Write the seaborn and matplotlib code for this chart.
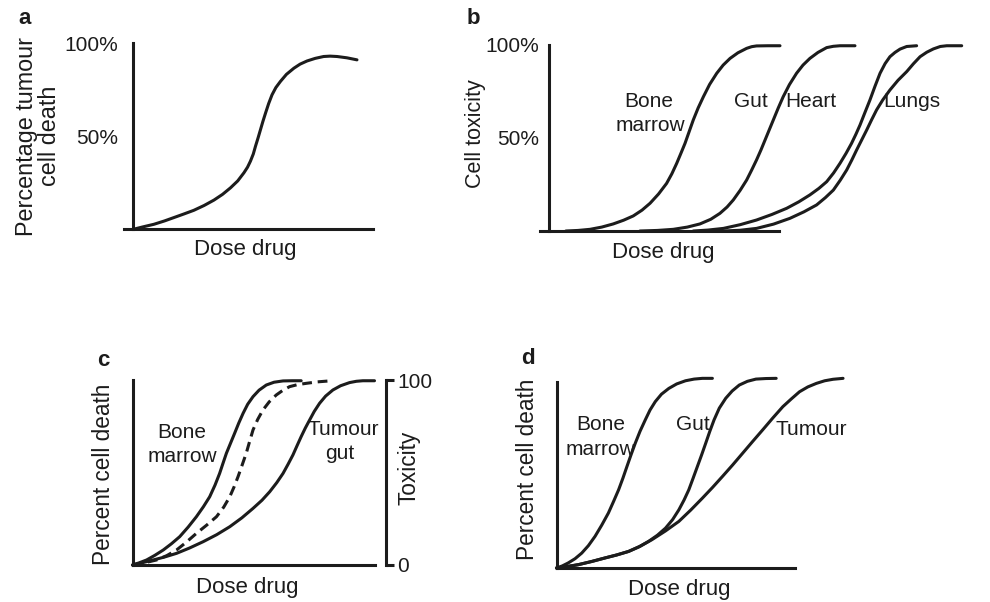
import matplotlib
matplotlib.use("Agg")
import matplotlib.pyplot as plt
import pandas as pd
import seaborn as sns

sns.set_style("white")
plt.rcParams["font.family"] = ["Liberation Sans", "DejaVu Sans"]

# ---- panel a: tumour cell death vs dose (dose 0-100, death %) ----
a_dose = [0, 4, 8.6, 13, 16.9, 21, 25.2, 29.5, 33.6, 37.2, 40.5, 43.5, 46.1, 47.6,
          48.8, 50.0, 50.9, 52.0, 53.0, 54.0, 55.1, 56.4, 57.8, 59.4, 61.3, 63.8,
          66.9, 69.5, 72.4, 75.8, 79.3, 82, 84.9, 89, 93.2]
a_death = [0, 1.3, 2.7, 4.5, 6.3, 8.2, 10.2, 12.8, 15.7, 18.8, 22.3, 26.0, 30.4,
           33.4, 36.6, 40.5, 44.6, 49.2, 53.6, 58.0, 62.5, 67.6, 72.3, 76.2, 79.5,
           83.3, 86.6, 88.8, 90.5, 91.9, 92.9, 93.1, 92.9, 92.2, 91.1]

# ---- panel b: cell toxicity of four tissues ----
b_marrow_dose = [7.2, 12.5, 17.7, 22.8, 27.8, 32.3, 36.5, 40.3, 43.8, 47.5, 51.0,
                 53.3, 55.4, 57.2, 59.0, 60.8, 62.6, 64.7, 67.0, 69.7, 72.8, 75.6,
                 78.6, 82.0, 85.8, 88.0, 90.1, 95, 100.3]
b_marrow_tox = [0, 0.3, 0.9, 2.1, 3.8, 5.8, 8.1, 11.2, 14.9, 19.9, 25.6, 30.8,
                36.4, 41.7, 47.1, 53.4, 59.7, 66.1, 72.2, 78.8, 84.8, 89.2, 92.8,
                95.8, 98.2, 99.1, 99.5, 99.6, 99.6]
b_gut_dose = [39.4, 47, 53.9, 60, 65.5, 70.2, 74.2, 77.3, 80.0, 83.0, 85.8, 88.0,
              90.1, 92.0, 93.8, 95.6, 97.4, 99.5, 101.7, 104.4, 107.5, 110.3,
              113.3, 116.8, 120.6, 123.5, 126.4, 132.9]
b_gut_tox = [0, 0.3, 0.9, 2.1, 3.8, 6.3, 9.5, 12.9, 16.7, 21.9, 27.4, 32.8, 38.2,
             43.5, 48.9, 54.3, 59.7, 66.0, 72.2, 78.7, 84.8, 89.2, 92.8, 96.0,
             98.6, 99.3, 99.6, 99.6]
b_heart_dose = [62.6, 69, 75.7, 83, 90.1, 96.8, 103.2, 108.5, 113.3, 117.2, 120.6,
                123.6, 126.4, 129.0, 131.4, 133.3, 135.1, 137.2, 139.4, 141.6,
                143.8, 146.0, 148.1, 150.3, 152.5, 155.4, 159.7]
b_heart_tox = [0, 0.5, 1.4, 3.4, 5.9, 8.9, 12.2, 15.7, 19.4, 22.9, 26.5, 31.2,
               36.4, 41.7, 47.1, 52.0, 57.0, 63.6, 70.4, 77.8, 84.8, 90.0, 93.7,
               96.0, 97.8, 99.2, 99.6]
b_lungs_dose = [75.7, 83, 90.1, 97.5, 104.6, 110.7, 116.2, 120.0, 123.5, 126.5,
                129.3, 131.5, 133.6, 135.8, 138.0, 140.1, 142.3, 145.0, 148.1,
                151.6, 155.4, 158.3, 161.2, 164.1, 167.0, 170, 172.8, 179.3]
b_lungs_tox = [0, 0.4, 1.4, 3.7, 6.8, 10.3, 14.0, 17.9, 22.0, 27.3, 32.8, 38.1,
               43.5, 48.9, 54.3, 59.7, 65.1, 70.5, 75.8, 81.0, 85.7, 89.9, 93.7,
               96.1, 97.9, 99.2, 99.6, 99.6]

# ---- panel c: bone marrow, tumour/gut and the dashed intermediate curve ----
c_marrow_dose = [0, 2.8, 5.8, 9.2, 12.7, 16.1, 19.5, 23.0, 26.4, 29.3, 31.9, 34.1,
                 36.0, 37.4, 38.8, 40.5, 42.2, 43.9, 45.7, 47.6, 49.8, 52.3, 55.3,
                 58.5, 62.2, 66, 69.7]
c_marrow_death = [0, 1.2, 2.7, 5.2, 8.1, 11.5, 15.3, 20.5, 26.1, 31.5, 36.9, 43.2,
                  49.5, 55.0, 60.4, 65.8, 71.2, 76.7, 82.0, 86.9, 91.0, 94.5, 97.3,
                  98.8, 99.5, 99.6, 99.6]
c_mid_dose = [0, 5, 9.9, 14.2, 18.2, 22.3, 26.4, 30.6, 34.7, 37.7, 40.2, 42.0, 43.6,
              45.3, 47.0, 48.4, 49.8, 51.7, 53.9, 56.5, 59.4, 62.0, 64.9, 68.2,
              71.8, 76.5, 81.4]
c_mid_death = [0, 1.2, 2.7, 5.1, 8.1, 12.4, 17.1, 21.5, 26.1, 31.3, 36.9, 42.3,
               47.7, 54.0, 60.4, 66.8, 73.0, 78.6, 83.8, 88.2, 91.9, 94.3, 96.4,
               97.5, 98.2, 99.0, 99.5]
c_tumour_dose = [0, 4, 8.5, 13.2, 18.2, 23.6, 29.2, 34.8, 40.2, 45.2, 49.8, 53.5,
                 56.7, 59.6, 62.2, 64.3, 66.3, 68.0, 69.7, 71.4, 73.2, 75.1, 77.3,
                 79.8, 82.8, 86, 89.7, 92.5, 95.2, 100]
c_tumour_death = [0, 1.2, 2.7, 4.3, 6.3, 9.2, 12.6, 16.4, 20.7, 25.5, 30.6, 35.0,
                  39.6, 44.5, 49.5, 54.5, 59.5, 64.5, 69.4, 74.0, 78.4, 83.0, 87.4,
                  91.3, 94.6, 96.9, 98.6, 99.3, 99.6, 99.6]
c_tox_ticks = [0, 100]
c_tox_labels = ["0", "100"]

# ---- panel d: bone marrow, gut and tumour ----
d_marrow_dose = [0, 2.4, 4.9, 7.8, 10.6, 13.4, 16.2, 19.0, 21.8, 24.0, 26.1, 27.9,
                 29.6, 31.3, 33.1, 35.1, 37.3, 39.3, 41.5, 44.1, 47.2, 50.5, 54.2,
                 57.8, 61.3, 65.5]
d_marrow_death = [0, 1.1, 2.7, 5.0, 8.0, 12.0, 17.0, 23.0, 29.5, 35.8, 42.0, 48.2,
                  54.5, 60.7, 67.0, 73.4, 79.5, 84.8, 89.3, 93.3, 96.4, 98.8, 100.5,
                  101.4, 101.8, 101.8]
d_gut_dose = [0, 4.5, 9.2, 14.8, 20.4, 25.3, 30.3, 34.6, 38.7, 42.4, 45.8, 48.8,
              51.4, 53.6, 55.6, 57.4, 59.2, 61.0, 62.7, 64.4, 66.2, 68.4, 71.1,
              73.8, 76.8, 80.2, 83.8, 88, 92.3]
d_gut_death = [0, 0.8, 1.8, 3.5, 5.4, 7.0, 8.9, 11.3, 14.3, 17.6, 21.4, 26.0, 31.2,
               36.5, 42.0, 48.2, 54.5, 60.8, 67.0, 73.3, 79.5, 85.8, 91.1, 95.0,
               98.2, 100.2, 101.4, 101.7, 101.8]
d_tumour_dose = [0, 4.5, 9.2, 14.8, 20.4, 25.3, 30.3, 35.3, 40.1, 45.8, 51.4, 56.4,
                 61.3, 65.6, 69.7, 74.0, 78.2, 82.4, 86.6, 90.8, 95.1, 98.7, 102.1,
                 105.6, 109.2, 112.7, 116.2, 120.4]
d_tumour_death = [0, 0.8, 1.8, 3.5, 5.4, 7.0, 8.9, 11.8, 15.2, 19.9, 25.0, 31.1,
                  37.5, 43.3, 49.1, 55.3, 61.6, 67.9, 74.1, 80.4, 86.6, 90.8, 94.6,
                  97.2, 99.1, 100.5, 101.3, 101.8]

pct_ticks = [50, 100]
pct_labels = ["50%", "100%"]

W, H = 990, 602
INK = "#1c1c1c"
LW = 2.2
fig = plt.figure(figsize=(W / 100, H / 100), dpi=100)


def panel(x0, x100, y0, y100, xlim, ylim):
    """Add an axes whose data (0,0) and (100,100) land on the given pixels."""
    sx = (x100 - x0) / 100.0
    sy = (y0 - y100) / 100.0
    left = x0 + xlim[0] * sx
    right = x0 + xlim[1] * sx
    bottom = y0 - ylim[0] * sy
    top = y0 - ylim[1] * sy
    ax = fig.add_axes([left / W, 1 - bottom / H, (right - left) / W, (bottom - top) / H])
    ax.set_xlim(*xlim)
    ax.set_ylim(*ylim)
    ax.patch.set_alpha(0)
    for side in ("top", "right"):
        ax.spines[side].set_visible(False)
    for side in ("left", "bottom"):
        ax.spines[side].set_position(("data", 0))
        ax.spines[side].set_linewidth(LW)
        ax.spines[side].set_color(INK)
    ax.set_xticks([])
    ax.set_yticks([])
    ax.set_xlabel("")
    ax.set_ylabel("")
    return ax


def curve(ax, x, y, **kw):
    df = pd.DataFrame({"dose": x, "effect": y})
    sns.lineplot(data=df, x="dose", y="effect", sort=False, estimator=None,
                 color=INK, lw=LW, clip_on=False, ax=ax,
                 solid_joinstyle="round", **kw)
    ax.set_xlabel("")
    ax.set_ylabel("")


def ftext(x, y, s, size=15, **kw):
    kw.setdefault("ha", "center")
    kw.setdefault("va", "center")
    fig.text(x / W, 1 - y / H, s, fontsize=size, color=INK, **kw)


# ---------------- a ----------------
ax = panel(133.3, 373.3, 229.3, 43.3, (-5, 100), (-2, 102))
ax.spines["left"].set_bounds(0, 100)
ax.spines["bottom"].set_bounds(-3.75, 100)
curve(ax, a_dose, a_death)
ax.set_yticks(pct_ticks)
ax.set_yticklabels(pct_labels)
ax.tick_params(axis="y", direction="inout", length=9.5, width=LW, color=INK,
               labelsize=15, labelcolor=INK, pad=6)
ftext(25, 19, "a", size=16, fontweight="bold")
ftext(38, 136, "Percentage tumour\ncell death", size=16.8, rotation=90,
      multialignment="center", linespacing=1.05)
ftext(245, 250, "Dose drug", size=16)

# ---------------- b ----------------
ax = panel(549.3, 779.3, 231, 45, (-5, 182), (-2, 102))
ax.spines["left"].set_bounds(0, 100)
ax.spines["bottom"].set_bounds(-4, 100)
curve(ax, b_marrow_dose, b_marrow_tox)
curve(ax, b_gut_dose, b_gut_tox)
curve(ax, b_heart_dose, b_heart_tox)
curve(ax, b_lungs_dose, b_lungs_tox)
ax.set_yticks(pct_ticks)
ax.set_yticklabels(pct_labels)
ax.tick_params(axis="y", direction="inout", length=10.8, width=LW, color=INK,
               labelsize=15, labelcolor=INK, pad=2)
ftext(473, 18, "b", size=16, fontweight="bold")
ftext(475, 134, "Cell toxicity", size=15.5, rotation=90)
ftext(663, 252, "Dose drug", size=16)
ftext(649, 107, "Bone", va="baseline")
ftext(650, 131, "marrow", va="baseline")
ftext(751, 107, "Gut", va="baseline")
ftext(811, 107, "Heart", va="baseline")
ftext(912, 107, "Lungs", va="baseline")

# ---------------- c ----------------
ax = panel(132.5, 374.5, 565, 380, (-2, 106), (-2, 102))
ax.spines["left"].set_bounds(0, 100)
ax.spines["bottom"].set_bounds(0, 100)
ax.spines["right"].set_visible(True)
ax.spines["right"].set_position(("data", 104.6))
ax.spines["right"].set_bounds(0, 100)
ax.spines["right"].set_linewidth(LW)
ax.spines["right"].set_color(INK)
curve(ax, c_marrow_dose, c_marrow_death)
curve(ax, c_mid_dose, c_mid_death, linestyle=(0, (3.2, 1.9)))
curve(ax, c_tumour_dose, c_tumour_death)
ax.yaxis.tick_right()
ax.set_yticks(c_tox_ticks)
ax.set_yticklabels(c_tox_labels)
ax.tick_params(axis="y", direction="out", length=5.8, width=LW, color=INK,
               labelsize=15, labelcolor=INK, pad=2.4)
ftext(103.5, 361, "c", size=16, fontweight="bold")
ftext(104, 474, "Percent cell death", size=16.3, rotation=90)
ftext(409, 468, "Toxicity", size=16.3, rotation=90)
ftext(247, 588, "Dose drug", size=16)
ftext(182, 438, "Bone", va="baseline")
ftext(182, 462, "marrow", va="baseline")
ftext(343, 435, "Tumour", va="baseline")
ftext(340, 459, "gut", va="baseline")

# ---------------- d ----------------
ax = panel(556.5, 794.5, 568, 381.7, (-2, 122), (-2, 104))
ax.spines["left"].set_bounds(0, 100)
ax.spines["bottom"].set_bounds(0, 100)
curve(ax, d_marrow_dose, d_marrow_death)
curve(ax, d_gut_dose, d_gut_death)
curve(ax, d_tumour_dose, d_tumour_death)
ftext(527.5, 358, "d", size=16, fontweight="bold")
ftext(528, 469, "Percent cell death", size=16.3, rotation=90)
ftext(679, 589, "Dose drug", size=16)
ftext(601, 430, "Bone", va="baseline")
ftext(600, 455, "marrow", va="baseline")
ftext(692.5, 430, "Gut", va="baseline")
ftext(811, 435, "Tumour", va="baseline")

fig.savefig("out.png", dpi=100)
